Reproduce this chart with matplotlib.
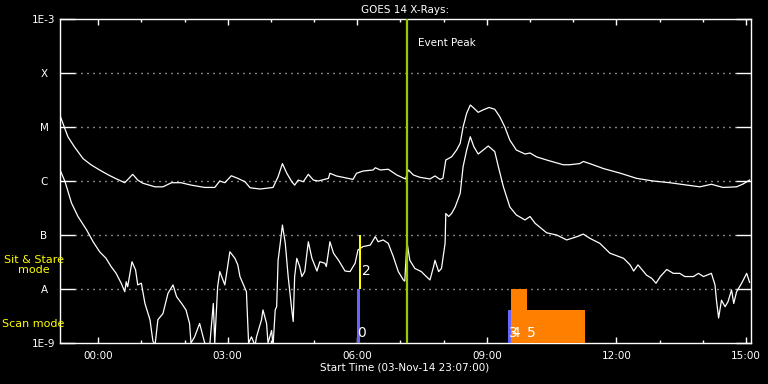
import numpy as np
import matplotlib
matplotlib.use('Agg')
import matplotlib.pyplot as plt
from matplotlib.ticker import FixedLocator, NullLocator

# GOES 14 X-ray flux (times are UT, start 03-Nov-14 23:07)
long_t = ['23:08', '23:18', '23:27', '23:39', '23:50', '00:02', '00:14', '00:25', '00:37', '00:48',
          '00:55', '01:02', '01:19', '01:30', '01:42', '01:55', '02:09', '02:28', '02:42', '02:49',
          '02:56', '03:05', '03:14', '03:24', '03:31', '03:45', '04:03', '04:10', '04:16', '04:22',
          '04:29', '04:33', '04:38', '04:45', '04:52', '04:59', '05:06', '05:20', '05:22', '05:31',
          '05:43', '05:54', '05:59', '06:08', '06:22', '06:25', '06:32', '06:43', '06:55', '07:07',
          '07:11', '07:18', '07:27', '07:41', '07:48', '07:55', '07:59', '08:03', '08:11', '08:18',
          '08:23', '08:27', '08:32', '08:37', '08:41', '08:48', '08:55', '09:03', '09:11', '09:18',
          '09:25', '09:32', '09:41', '09:53', '10:00', '10:09', '10:23', '10:46', '10:55', '11:09',
          '11:14', '11:23', '11:42', '12:05', '12:28', '12:51', '13:14', '13:38', '13:56', '14:12',
          '14:28', '14:47', '14:56', '15:05']
long_f = [1.5e-5, 6.6e-6, 4.3e-6, 2.6e-6, 2.0e-6, 1.6e-6, 1.3e-6, 1.1e-6, 9.3e-7, 1.33e-6,
          1.04e-6, 9.1e-7, 7.8e-7, 7.8e-7, 9.3e-7, 9.3e-7, 8.4e-7, 7.6e-7, 7.6e-7, 1.0e-6,
          9.3e-7, 1.25e-6, 1.12e-6, 9.7e-7, 7.5e-7, 7.1e-7, 7.6e-7, 1.2e-6, 2.1e-6, 1.4e-6,
          9.7e-7, 8.4e-7, 1.04e-6, 9.7e-7, 1.33e-6, 1.04e-6, 1.0e-6, 1.12e-6, 1.39e-6, 1.24e-6,
          1.15e-6, 1.07e-6, 1.39e-6, 1.53e-6, 1.6e-6, 1.76e-6, 1.6e-6, 1.65e-6, 1.29e-6, 1.09e-6,
          1.6e-6, 1.29e-6, 1.17e-6, 1.09e-6, 1.24e-6, 1.07e-6, 1.12e-6, 2.45e-6, 2.8e-6, 3.75e-6,
          5.0e-6, 1.0e-5, 1.8e-5, 2.55e-5, 2.3e-5, 1.87e-5, 2.08e-5, 2.3e-5, 2.13e-5, 1.55e-5,
          1.0e-5, 5.7e-6, 3.75e-6, 3.16e-6, 3.3e-6, 2.8e-6, 2.45e-6, 2.0e-6, 2.0e-6, 2.1e-6,
          2.3e-6, 2.1e-6, 1.7e-6, 1.4e-6, 1.12e-6, 1.0e-6, 9.3e-7, 8.4e-7, 7.8e-7, 8.7e-7,
          7.6e-7, 7.8e-7, 8.8e-7, 1.04e-6]

short_t = ['23:08', '23:14', '23:23', '23:32', '23:44', '23:53', '00:02', '00:11', '00:18', '00:25',
           '00:32', '00:37', '00:39', '00:41', '00:47', '00:52', '00:55', '01:00', '01:05', '01:12',
           '01:16', '01:19', '01:23', '01:30', '01:37', '01:44', '01:49', '01:56', '02:02', '02:07',
           '02:09', '02:14', '02:21', '02:28', '02:35', '02:40', '02:42', '02:46', '02:49', '02:56',
           '03:03', '03:10', '03:14', '03:17', '03:24', '03:26', '03:29', '03:33', '03:38', '03:40',
           '03:47', '03:49', '03:54', '03:56', '04:01', '04:03', '04:06', '04:08', '04:10', '04:13',
           '04:16', '04:20', '04:24', '04:29', '04:31', '04:33', '04:36', '04:40', '04:43', '04:47',
           '04:52', '04:57', '05:04', '05:08', '05:15', '05:17', '05:22', '05:27', '05:34', '05:43',
           '05:50', '05:57', '06:01', '06:08', '06:18', '06:25', '06:29', '06:36', '06:43', '06:50',
           '06:57', '07:04', '07:06', '07:09', '07:13', '07:20', '07:29', '07:34', '07:41', '07:46',
           '07:48', '07:53', '07:57', '08:02', '08:03', '08:07', '08:11', '08:16', '08:23', '08:27',
           '08:32', '08:37', '08:42', '08:48', '08:55', '09:02', '09:11', '09:16', '09:23', '09:32',
           '09:41', '09:53', '10:00', '10:07', '10:23', '10:37', '10:51', '11:05', '11:14', '11:23',
           '11:37', '11:51', '12:10', '12:19', '12:24', '12:30', '12:42', '12:49', '12:55', '13:01',
           '13:10', '13:19', '13:28', '13:35', '13:47', '13:54', '14:01', '14:12', '14:17', '14:19',
           '14:22', '14:26', '14:31', '14:35', '14:40', '14:43', '14:47', '14:54', '15:01', '15:05']
short_f = [1.5e-6, 9.7e-7, 3.9e-7, 2.2e-7, 1.24e-7, 7.5e-8, 4.9e-8, 3.7e-8, 2.6e-8, 1.95e-8,
           1.28e-8, 8.9e-9, 1.36e-8, 1.1e-8, 3.2e-8, 2.25e-8, 1.19e-8, 1.28e-8, 5.4e-9, 2.7e-9,
           1.1e-9, 9e-10, 2.7e-9, 3.5e-9, 8.3e-9, 1.19e-8, 7.2e-9, 5.4e-9, 4.1e-9, 2.3e-9,
           1.0e-9, 1.3e-9, 2.3e-9, 1.0e-9, 9e-10, 5.4e-9, 1.0e-9, 1.1e-8, 2.1e-8, 1.19e-8,
           4.9e-8, 3.7e-8, 2.8e-8, 1.7e-8, 1.03e-8, 8.9e-9, 1.0e-9, 1.3e-9, 9e-10, 1.3e-9,
           2.7e-9, 4.1e-9, 2.3e-9, 1.0e-9, 1.7e-9, 9e-10, 4.1e-9, 4.7e-9, 3.4e-8, 7.0e-8,
           1.53e-7, 7.0e-8, 1.7e-8, 4.1e-9, 2.5e-9, 1.7e-8, 3.7e-8, 2.6e-8, 1.7e-8, 2.1e-8,
           7.5e-8, 3.7e-8, 2.15e-8, 3.2e-8, 3.0e-8, 2.6e-8, 7.5e-8, 4.6e-8, 3.4e-8, 2.15e-8,
           2.1e-8, 3.0e-8, 5.3e-8, 6.1e-8, 6.5e-8, 9.3e-8, 7.5e-8, 8.1e-8, 7.0e-8, 4.0e-8,
           2.1e-8, 1.47e-8, 1.4e-8, 7.5e-8, 3.4e-8, 2.4e-8, 2.1e-8, 1.8e-8, 1.47e-8, 2.6e-8,
           3.4e-8, 2.1e-8, 2.4e-8, 7.0e-8, 2.5e-7, 2.2e-7, 2.5e-7, 3.3e-7, 5.9e-7, 1.84e-6,
           3.75e-6, 6.6e-6, 4.3e-6, 3.16e-6, 3.75e-6, 4.45e-6, 3.5e-6, 1.84e-6, 7.8e-7, 3.3e-7,
           2.35e-7, 1.9e-7, 2.2e-7, 1.65e-7, 1.1e-7, 1.0e-7, 8.1e-8, 9.3e-8, 1.04e-7, 8.7e-8,
           7.0e-8, 4.6e-8, 3.7e-8, 2.8e-8, 2.15e-8, 2.8e-8, 1.8e-8, 1.58e-8, 1.28e-8, 1.7e-8,
           2.3e-8, 1.95e-8, 1.95e-8, 1.7e-8, 1.7e-8, 1.95e-8, 1.7e-8, 1.95e-8, 1.19e-8, 6.2e-9,
           2.9e-9, 6.2e-9, 4.7e-9, 5.8e-9, 9.6e-9, 5.4e-9, 8.9e-9, 1.28e-8, 1.95e-8, 1.33e-8]

# observing mode blocks: start, end, low, high, colour
mode_start = ['06:00', '06:02', '09:29', '09:34', '09:56']
mode_end = ['06:04', '06:05', '09:34', '09:56', '11:16']
mode_low = [1e-9, 1e-8, 1e-9, 1e-9, 1e-9]
mode_high = [1e-8, 1e-7, 4.1e-9, 1e-8, 4.1e-9]
mode_color = ['#6666ff', '#ffff00', '#6666ff', '#ff8000', '#ff8000']

# event numbers
event_num = ['0', '2', '3', '4', '5']
event_t = ['06:00', '06:07', '09:31', '09:34', '09:56']
event_y = [1.5e-9, 2.2e-8, 1.5e-9, 1.5e-9, 1.5e-9]

peak_time = '07:09'

ytick_vals = [1e-9, 1e-8, 1e-7, 1e-6, 1e-5, 1e-4, 1e-3]
ytick_labels = ['1E-9', 'A', 'B', 'C', 'M', 'X', '1E-3']
xtick_vals = [0, 3, 6, 9, 12, 15]
xtick_labels = ['00:00', '03:00', '06:00', '09:00', '12:00', '15:00']


def to_hours(s):
    hh, mm = map(int, s.split(':'))
    h = hh + mm / 60
    return h - 24 if hh >= 23 else h


long_h = np.array([to_hours(s) for s in long_t])
short_h = np.array([to_hours(s) for s in short_t])

plt.rcParams['font.family'] = ['DejaVu Sans']
fs = 7.5

fig = plt.figure(figsize=(7.68, 3.84), dpi=100, facecolor='black')
ax = fig.add_axes([60 / 768, 41 / 384, 691 / 768, 324 / 384])
ax.set_facecolor('black')
ax.set_yscale('log')
ax.set_ylim(1e-9, 1e-3)
ax.set_xlim(to_hours('23:07'), to_hours('15:07'))

ax.plot(long_h, long_f, color='white', lw=0.9, zorder=2)
ax.plot(short_h, short_f, color='white', lw=0.9, zorder=2)

# mode bars
for s, e, lo, hi, c in zip(mode_start, mode_end, mode_low, mode_high, mode_color):
    x0 = to_hours(s)
    ax.bar(x0, hi - lo, width=to_hours(e) - x0, bottom=lo, align='edge',
           color=c, linewidth=0, zorder=3)

for n, t, y in zip(event_num, event_t, event_y):
    ax.text(to_hours(t), y, n, color='white', fontsize=10, ha='left', va='center', zorder=4)

# dotted levels
for lev in ytick_vals[1:-1]:
    ax.axhline(lev, xmin=15 / 691, xmax=1 - 15 / 691, color='white', lw=1.0,
               linestyle=(0, (0.72, 3.6)), zorder=1)

# event peak
ax.axvline(to_hours(peak_time), color='#99cc00', lw=1.6, zorder=3)
ax.annotate('Event Peak', xy=(to_hours(peak_time), 1), xycoords=('data', 'axes fraction'),
            xytext=(11, -24), textcoords='offset pixels', color='white', fontsize=fs,
            ha='left', va='center')

# axes styling
for sp in ax.spines.values():
    sp.set_color('white')
    sp.set_linewidth(1.0)

ax.yaxis.set_major_locator(FixedLocator(ytick_vals))
ax.yaxis.set_minor_locator(NullLocator())
ax.set_yticklabels(ytick_labels)
ax.tick_params(axis='y', which='major', direction='in', length=10.8, width=1.0,
               color='white', left=True, right=True, labelcolor='white',
               labelsize=fs, pad=11.5)
for lab in ax.get_yticklabels():
    lab.set_horizontalalignment('center')

ax.set_xticks(xtick_vals)
ax.set_xticklabels(xtick_labels)
ax.set_xticks(np.arange(0, 16, 1), minor=True)
ax.tick_params(axis='x', which='major', direction='in', length=4.5, width=1.0,
               color='white', top=True, bottom=True, labelcolor='white',
               labelsize=fs, pad=5.5)
ax.tick_params(axis='x', which='minor', direction='in', length=2.5, width=1.0,
               color='white', top=True, bottom=True)

fig.text(405.5 / 768, 1 - 10 / 384, 'GOES 14 X-Rays:', ha='center', va='center',
         color='white', fontsize=fs)
fig.text(405 / 768, 1 - 368 / 384, 'Start Time (03-Nov-14 23:07:00)', ha='center',
         va='center', color='white', fontsize=fs)
fig.text(34 / 768, 1 - 265 / 384, 'Sit & Stare\nmode', ha='center', va='center',
         color='#ffff00', fontsize=8, linespacing=1.0)
fig.text(2 / 768, 1 - 324 / 384, 'Scan mode', ha='left', va='center',
         color='#ffff00', fontsize=8)

fig.savefig('out.png', dpi=100, facecolor='black')
